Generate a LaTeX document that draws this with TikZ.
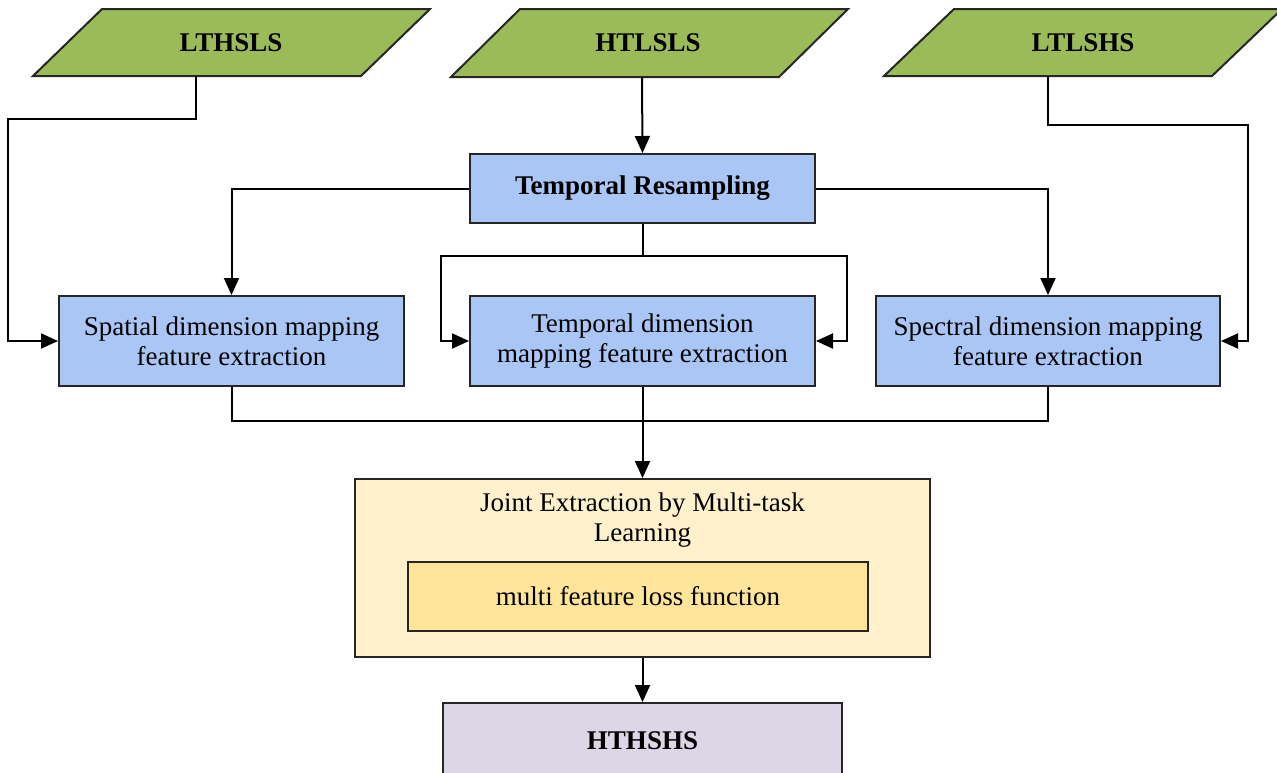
\documentclass[tikz,border=0pt]{standalone}
\usepackage{fontspec}
\setmainfont{Liberation Serif}
\usetikzlibrary{arrows.meta}
\definecolor{grn}{HTML}{9BBB59}
\definecolor{blu}{HTML}{A9C6F5}
\definecolor{ylw}{HTML}{FFF1CC}
\definecolor{ylwd}{HTML}{FFE599}
\definecolor{lav}{HTML}{DCD6E7}
\begin{document}
\begin{tikzpicture}[x=1pt,y=-1pt,
  txt/.style={font=\fontsize{27}{30}\selectfont, align=center, inner sep=0pt},
  btxt/.style={txt, font=\fontsize{27}{30}\selectfont\bfseries},
  box/.style={draw=black!85, line width=2pt, inner sep=0pt, align=center,
              font=\fontsize{27}{30}\selectfont},
  para/.style={draw=black!85, line width=2pt, fill=grn, line join=miter},
  conn/.style={draw=black, line width=2pt},
  arr/.style={conn, -{Triangle[length=17pt,width=15pt]}}]
\useasboundingbox (0,0) rectangle (1277,772);
\clip (0,0) rectangle (1277,772);
% input parallelograms
\draw[para] (102,9) -- (430,9) -- (361,76) -- (33,76) -- cycle;
\node[btxt] (in1) at (231,43) {LTHSLS};
\draw[para] (520,9) -- (848,9) -- (779,77) -- (451,77) -- cycle;
\node[btxt] (in2) at (648,43) {HTLSLS};
\draw[para] (954,9) -- (1282,9) -- (1212,76) -- (884,76) -- cycle;
\node[btxt] (in3) at (1083,43) {LTLSHS};
\coordinate (in1b) at (196,76);
\coordinate (in2b) at (642,77);
\coordinate (in3b) at (1048,76);
% boxes
\node[box, fill=blu, minimum width=345pt, minimum height=69pt, font=\fontsize{27}{30}\selectfont\bfseries] (tr) at (642.5,188.5) {Temporal Resampling};
\node[box, fill=blu, minimum width=345pt, minimum height=90pt] (spa) at (231.5,341) {Spatial dimension mapping\\feature extraction};
\node[box, fill=blu, minimum width=345pt, minimum height=90pt] (tem) at (642.5,341) {Temporal dimension\\mapping feature extraction};
\node[box, fill=blu, minimum width=344pt, minimum height=90pt] (spe) at (1048,341) {Spectral dimension mapping\\feature extraction};
\node[box, fill=ylw, minimum width=575pt, minimum height=178pt] (joint) at (642.5,568) {};
\node[txt] (jt) at (642.5,520) {Joint Extraction by Multi-task\\Learning};
\node[box, fill=ylwd, minimum width=460pt, minimum height=69pt] (loss) at (638,596.5) {multi feature loss function};
\node[box, fill=lav, minimum width=399pt, minimum height=76pt, font=\fontsize{27}{30}\selectfont\bfseries] (out) at (642.5,741) {HTHSHS};
% connectors
\draw[arr] (in1b) |- (8,119) |- (spa.west);
\draw[arr] (in2b) -- (tr.north);
\draw[arr] (in3b) |- (1248,125) |- (spe.east);
\draw[arr] (tr.west) -| (spa.north);
\draw[arr] (tr.east) -| (spe.north);
\coordinate (split) at (642.5,256);
\draw[conn] (tr.south) -- (split);
\draw[arr] (split) -| (441,300) |- (tem.west);
\draw[arr] (split) -| (847,300) |- (tem.east);
\coordinate (merge) at (642.5,421);
\draw[conn] (spa.south) |- (merge);
\draw[conn] (spe.south) |- (merge);
\draw[arr] (tem.south) -- (joint.north);
\draw[arr] (joint.south) -- (out.north);
\end{tikzpicture}
\end{document}
